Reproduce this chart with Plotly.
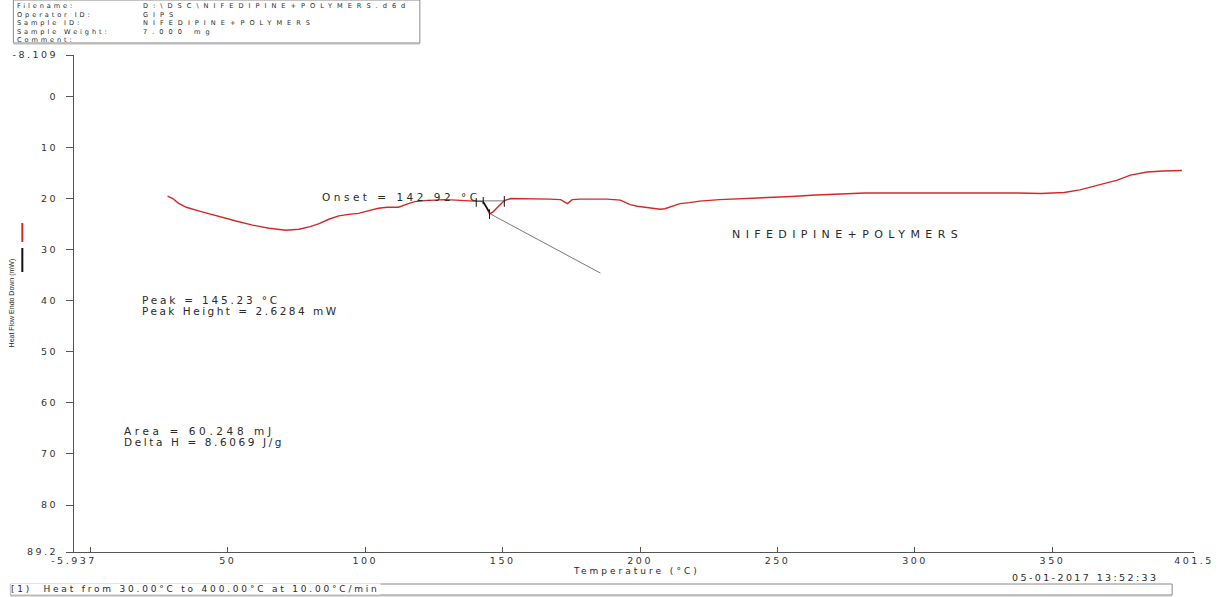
import plotly.graph_objects as go

# ---------------- data ----------------
temperature = [28.1, 30.0, 32.0, 34.9, 40.0, 47.0, 53.0, 59.0, 65.0, 71.1, 75.9, 80.0,
               83.2, 87.0, 90.4, 94.0, 97.6, 101.0, 104.8, 108.0, 112.1, 115.7, 118.0,
               121.7, 125.0, 128.9, 133.0, 137.0, 140.4, 142.9, 144.0, 145.23, 146.5,
               148.5, 150.6, 153.0, 158.0, 162.7, 167.0, 171.1, 172.5, 173.5, 174.5,
               175.3, 178.3, 183.0, 188.0, 192.8, 196.4, 199.0, 202.5, 205.0, 207.3,
               209.0, 210.9, 214.5, 218.0, 221.7, 228.9, 237.0, 245.8, 255.0, 263.9,
               272.0, 281.9, 294.0, 312.1, 330.2, 337.4, 345.8, 350.0, 354.3, 360.0,
               366.3, 373.6, 378.4, 384.4, 390.4, 397.1]
heat_flow = [19.5, 20.0, 20.9, 21.7, 22.5, 23.6, 24.4, 25.2, 25.8, 26.2, 26.0, 25.5,
             24.9, 24.0, 23.4, 23.1, 22.9, 22.4, 21.9, 21.7, 21.7, 21.0, 20.6,
             20.4, 20.3, 20.2, 20.3, 20.4, 20.5, 20.6, 21.5, 23.0, 22.6,
             21.5, 20.4, 20.0, 20.0, 20.1, 20.1, 20.2, 20.6, 21.0, 20.6,
             20.2, 20.1, 20.1, 20.1, 20.3, 21.2, 21.5, 21.8, 22.0, 22.1,
             22.0, 21.7, 21.0, 20.8, 20.5, 20.2, 20.0, 19.9, 19.6, 19.3,
             19.1, 18.9, 18.9, 18.9, 18.8, 18.9, 19.0, 18.9, 18.8, 18.3,
             17.4, 16.4, 15.4, 14.8, 14.6, 14.5]

# peak analysis
onset_temp = 142.92
peak_temp = 145.23
limit_temps = [140.4, 150.6]
baseline_hf = 20.45
marker_top = [19.9, 19.7, 22.1, 19.5]
marker_bottom = [21.6, 21.1, 24.0, 21.6]
onset_seg_x = [142.92, 145.0]
onset_seg_y = [20.7, 22.5]
tangent_x = [145.5, 185.6]
tangent_y = [23.0, 34.6]

y_tickvals = [-8.109, 0, 10, 20, 30, 40, 50, 60, 70, 80, 89.2]
y_ticktext = ["-8.109", "0", "10", "20", "30", "40", "50", "60", "70", "80", "89.2"]
x_tickvals = [-5.937, 0, 50, 100, 150, 200, 250, 300, 350, 401.5]
x_ticktext = ["-5.937", "", "50", "100", "150", "200", "250", "300", "350", "401.5"]

header_labels = ["Filename:", "Operator ID:", "Sample ID:", "Sample Weight:", "Comment:"]
header_values = ["D:\\DSC\\NIFEDIPINE+POLYMERS.d6d", "GIPS", "NIFEDIPINE+POLYMERS", "7.000 mg", ""]

# ---------------- layout helpers ----------------
W, H = 1226, 597
L, R, T, B = 70, 1197, 55, 552
FONT = "DejaVu Sans"
TXT = "#2a2a2a"


def px(xp):
    return (xp - L) / (R - L)


def py(yp):
    return (B - yp) / (B - T)


def sp(text, ls):
    return '<span style="letter-spacing:%spx">%s</span>' % (ls, text)


fig = go.Figure()

fig.add_trace(go.Scatter(x=temperature, y=heat_flow, mode="lines",
                         line=dict(color="rgb(212,40,40)", width=1.4),
                         hoverinfo="skip", showlegend=False))

# baseline between limits
fig.add_trace(go.Scatter(x=limit_temps, y=[baseline_hf, baseline_hf], mode="lines",
                         line=dict(color="#777777", width=1), showlegend=False))
# vertical markers
mx, my = [], []
for xv, t0, t1 in zip([limit_temps[0], onset_temp, peak_temp, limit_temps[1]], marker_top, marker_bottom):
    mx += [xv, xv, None]
    my += [t0, t1, None]
fig.add_trace(go.Scatter(x=mx, y=my, mode="lines", line=dict(color="#111111", width=1),
                         showlegend=False))
fig.add_trace(go.Scatter(x=onset_seg_x, y=onset_seg_y, mode="lines",
                         line=dict(color="#111111", width=1.6), showlegend=False))
fig.add_trace(go.Scatter(x=tangent_x, y=tangent_y, mode="lines",
                         line=dict(color="#555555", width=0.8), showlegend=False))

ann = []


def text(xp, yp, s, size=10.5, ls=2.6, anchor="left", yanchor="middle", family=FONT,
         angle=0, color=TXT, bg=None):
    d = dict(x=px(xp), y=py(yp), xref="paper", yref="paper", text=s, showarrow=False,
             xanchor=anchor, yanchor=yanchor, textangle=angle, align="left",
             font=dict(family=family, size=size, color=color))
    if ls:
        d["text"] = "<br>".join(sp(part, ls) for part in s.split("\n"))
    if bg:
        d["bgcolor"] = bg
        d["borderpad"] = 0
    ann.append(d)


# header (two multi-line blocks)
text(11, 0, "\n".join(header_labels), size=6.6, ls=2.9, yanchor="top")
text(137, 0, "\n".join(header_values), size=6.6, ls=5.0, yanchor="top")

# annotations in plot
text(318, 197, "Onset = 142.92 °C", size=10.5, ls=3.5)
text(136, 300, "Peak = 145.23 °C", size=10.5, ls=2.8)
text(136, 311, "Peak Height = 2.6284 mW", size=10.5, ls=2.5)
text(118, 431, "Area = 60.248 mJ", size=10.5, ls=3.6)
text(118, 442, "Delta H = 8.6069 J/g", size=10.5, ls=2.6)
text(730, 234, "NIFEDIPINE+POLYMERS", size=11, ls=5.4)

# axis titles
text(636, 571, "Temperature (°C)", size=9, ls=3.0, anchor="center")
text(8, 303, "Heat Flow Endo Down (mW)", size=7, ls=0, anchor="center",
     family="Liberation Sans Narrow, Liberation Sans", angle=-90)

# footer
text(1088, 577, "05-01-2017 13:52:33", size=9.5, ls=2.4, anchor="center")
text(6, 589, "[1)  Heat from 30.00°C to 400.00°C at 10.00°C/min", size=9, ls=2.8, bg="white")

shapes = [
    # header box
    dict(type="rect", xref="paper", yref="paper", x0=px(9), x1=px(418), y0=py(43), y1=py(0),
         line=dict(color="#8a8a8a", width=1)),
    dict(type="line", xref="paper", yref="paper", x0=px(9), x1=px(418), y0=py(43.5), y1=py(43.5),
         line=dict(color="#bbbbbb", width=2)),
    # footer box
    dict(type="rect", xref="paper", yref="paper", x0=px(6), x1=px(1175), y0=py(595), y1=py(584),
         line=dict(color="#8a8a8a", width=1), layer="below"),
    dict(type="line", xref="paper", yref="paper", x0=px(6), x1=px(1175), y0=py(595.5), y1=py(595.5),
         line=dict(color="#bbbbbb", width=2)),
    # curve key marks
    dict(type="line", xref="paper", yref="paper", x0=px(18), x1=px(18), y0=py(223), y1=py(242),
         line=dict(color="rgb(212,40,40)", width=2)),
    dict(type="line", xref="paper", yref="paper", x0=px(18), x1=px(18), y0=py(248), y1=py(272),
         line=dict(color="#111111", width=2)),
]

fig.update_layout(
    width=W, height=H,
    margin=dict(l=L, r=W - R, t=T, b=H - B),
    paper_bgcolor="white", plot_bgcolor="white",
    annotations=ann, shapes=shapes,
    showlegend=False,
    xaxis=dict(range=[-5.937, 401.5], showgrid=False, zeroline=False,
               showline=True, linecolor="#555555", linewidth=1,
               ticks="inside", ticklen=5, tickcolor="#555555", tickangle=0,
               tickvals=x_tickvals, ticktext=[sp(t, 2.5) for t in x_ticktext],
               tickfont=dict(family=FONT, size=9.5, color="#333333"), ticklabelstandoff=0),
    yaxis=dict(range=[89.2, -8.109], showgrid=False, zeroline=False,
               showline=True, linecolor="#555555", linewidth=1,
               ticks="outside", ticklen=7, tickcolor="#555555",
               tickvals=y_tickvals, ticktext=[sp(t, 2.5) for t in y_ticktext],
               tickfont=dict(family=FONT, size=9.5, color="#333333"), ticklabelstandoff=6),
)

fig.write_html("out.html")
